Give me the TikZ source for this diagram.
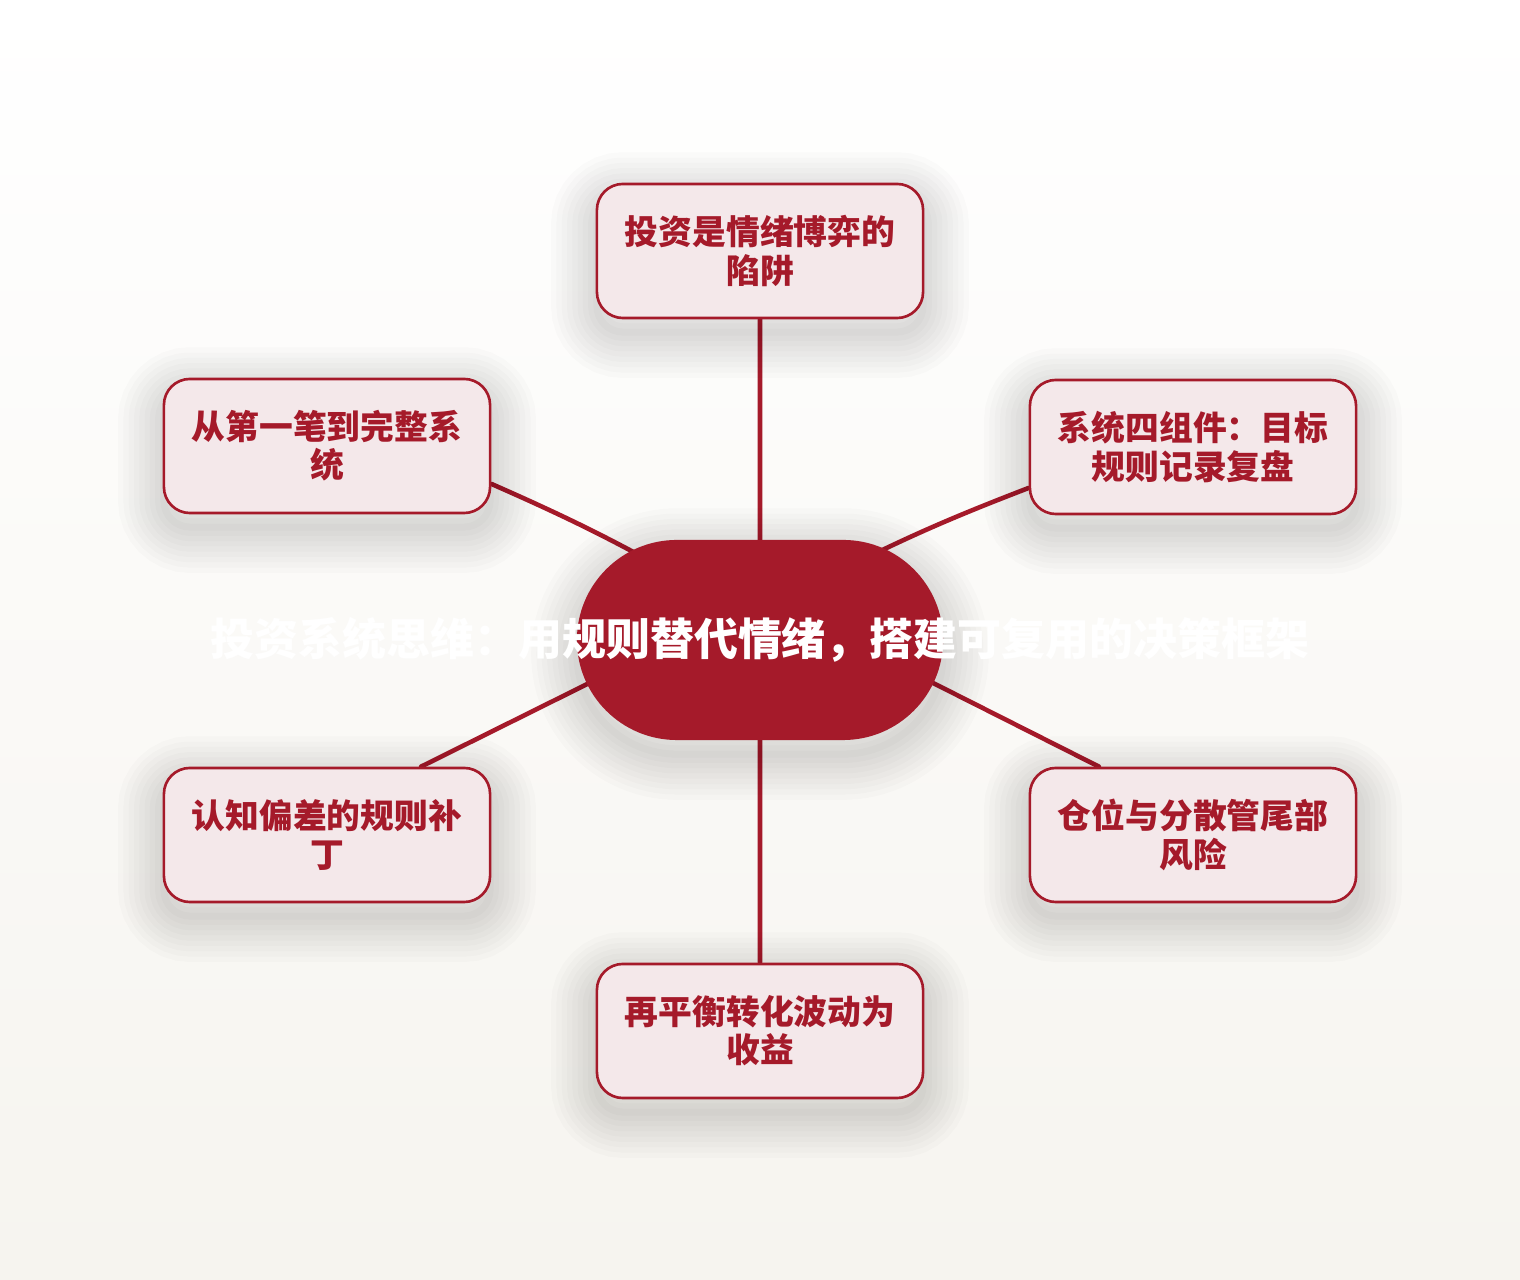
\documentclass[tikz,border=0pt]{standalone}
\usepackage{fontspec}
\setmainfont{Noto Sans CJK SC}
\definecolor{crimson}{HTML}{A51A2A}
\definecolor{blush}{HTML}{F4E8EA}
\pgfdeclarelayer{paper}
\pgfdeclarelayer{edges}
\pgfsetlayers{paper,edges,main}

\begin{document}
\begin{tikzpicture}[x=0.01cm,y=-0.01cm,
  every node/.style={align=center},
  halo/.style={preaction={draw=black,opacity=0.015,line width=#1,
      transform canvas={yshift=-4pt}}},
  softshadow/.style={halo=26pt,halo=23pt,halo=20pt,halo=17pt,halo=14pt,
      halo=11pt,halo=8pt,halo=5pt,halo=2pt},
  topic/.style={draw=crimson,line width=0.75pt,fill=blush,rounded corners=0.26cm,
      minimum width=3.26cm,minimum height=1.34cm,inner sep=0pt,text=crimson,
      font=\fontsize{9.6}{10.9}\selectfont\bfseries,softshadow},
  hub/.style={fill=crimson,rounded corners=1cm,minimum width=3.66cm,
      minimum height=2cm,inner sep=0pt,text=white,
      font=\fontsize{12.5}{14}\selectfont\bfseries,softshadow},
  link/.style={draw=crimson,line width=1.3pt,line cap=round}]
\begin{pgfonlayer}{paper}
  \shade[top color=white,bottom color={rgb,255:red,246;green,244;blue,239}]
    (0,0) rectangle (1520,1280);
\end{pgfonlayer}
\useasboundingbox (0,0) rectangle (1520,1280);

\node [hub] (hub) at (760,640) {\makebox[0pt]{投资系统思维：用规则替代情绪，搭建可复用的决策框架}};

\node [topic] (trap)    at (760,251)  {投资是情绪博弈的\\陷阱};
\node [topic] (first)   at (327,446)  {从第一笔到完整系\\统};
\node [topic] (parts)   at (1193,447) {系统四组件：目标\\规则记录复盘};
\node [topic] (bias)    at (327,835)  {认知偏差的规则补\\丁};
\node [topic] (size)    at (1193,835) {仓位与分散管尾部\\风险};
\node [topic] (balance) at (760,1031) {再平衡转化波动为\\收益};

\coordinate (hubnw) at ([shift={(-60,-51)}]hub.center);
\coordinate (hubne) at ([shift={(60,-59)}]hub.center);
\coordinate (hubsw) at ([shift={(-60,-12)}]hub.center);
\coordinate (hubse) at ([shift={(60,-14)}]hub.center);

\begin{pgfonlayer}{edges}
\draw [link] (trap.south) -- (hub.center)
      (first.-13) to[bend left=3] (hubnw)
      (parts.194) to[bend right=3] (hubne)
      (bias.36) -- (hubsw)
      (size.144) -- (hubse)
      (balance.north) -- (hub.center)
;
\end{pgfonlayer}
\end{tikzpicture}
\end{document}
